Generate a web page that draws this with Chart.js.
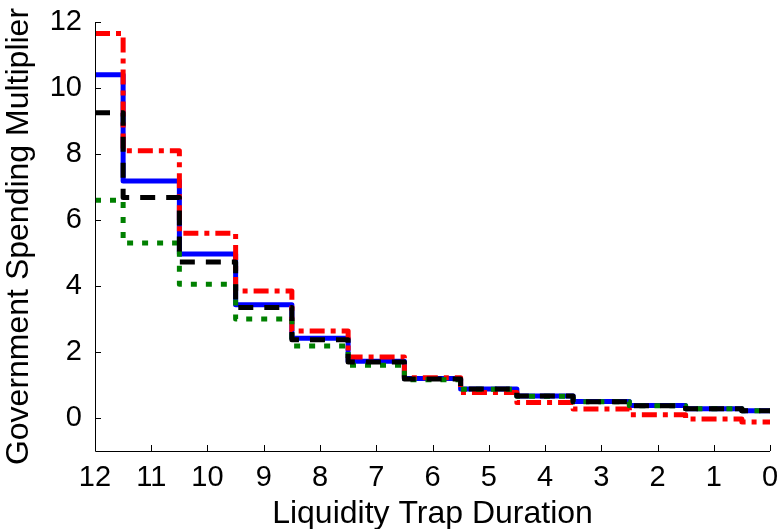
<!DOCTYPE html>
<html>
<head>
<meta charset="utf-8">
<script src="https://cdn.jsdelivr.net/npm/chart.js@4/dist/chart.umd.min.js"></script>
<style>
  html, body { margin: 0; padding: 0; background: #fff; overflow: hidden; }
  #wrap { width: 781px; height: 529px; overflow: hidden; }
</style>
</head>
<body>
<div id="wrap"><canvas id="multChart" width="781" height="540"></canvas></div>
<script>
// liquidity trap duration (quarters), plotted right-to-left
const durations = [12, 11, 10, 9, 8, 7, 6, 5, 4, 3, 2, 1, 0];
const yTickValues = [0, 2, 4, 6, 8, 10, 12];

const blueSeries  = [10.4, 7.18, 4.97, 3.43, 2.42, 1.72, 1.2, 0.88, 0.67, 0.5, 0.38, 0.28, 0.22];
const redSeries   = [11.65, 8.1, 5.6, 3.85, 2.64, 1.85, 1.22, 0.77, 0.47, 0.27, 0.1, -0.03, -0.12];
const blackSeries = [9.25, 6.68, 4.73, 3.35, 2.37, 1.7, 1.18, 0.88, 0.67, 0.49, 0.37, 0.28, 0.22];
const greenSeries = [6.6, 5.3, 4.05, 3.0, 2.18, 1.6, 1.16, 0.87, 0.66, 0.49, 0.37, 0.28, 0.22];

const toPoints = arr => durations.map((d, i) => ({ x: d, y: arr[i] }));

// MATLAB-like inward tick marks
const inwardTicks = {
  id: 'inwardTicks',
  afterDatasetsDraw(chart) {
    const { ctx, chartArea, scales } = chart;
    ctx.save();
    ctx.strokeStyle = '#000';
    ctx.lineWidth = 1;
    scales.x.ticks.forEach(t => {
      const px = Math.round(scales.x.getPixelForValue(t.value)) + 0.5;
      ctx.beginPath();
      ctx.moveTo(px, chartArea.bottom);
      ctx.lineTo(px, chartArea.bottom - 6);
      ctx.stroke();
    });
    scales.y.ticks.forEach(t => {
      const py = Math.round(scales.y.getPixelForValue(t.value)) + 0.5;
      ctx.beginPath();
      ctx.moveTo(chartArea.left, py);
      ctx.lineTo(chartArea.left + 6, py);
      ctx.stroke();
    });
    ctx.beginPath();
    ctx.moveTo(chartArea.left + 0.5, chartArea.top);
    ctx.lineTo(chartArea.left + 0.5, chartArea.bottom + 0.5);
    ctx.lineTo(chartArea.right, chartArea.bottom + 0.5);
    ctx.stroke();
    ctx.restore();
  }
};

const common = {
  stepped: 'middle',
  pointRadius: 0,
  borderWidth: 5,
  fill: false,
  borderJoinStyle: 'round',
  borderCapStyle: 'butt'
};

const tickFont = { family: 'Liberation Sans', size: 29 };
const titleFont = { family: 'Liberation Sans', size: 32 };

const ctx = document.getElementById('multChart').getContext('2d');
new Chart(ctx, {
  type: 'line',
  data: {
    datasets: [
      Object.assign({ label: 'black', data: toPoints(blackSeries), borderColor: '#000000', borderDash: [15, 11] }, common),
      Object.assign({ label: 'green', data: toPoints(greenSeries), borderColor: '#008000', borderDash: [6, 9] }, common),
      Object.assign({ label: 'red', data: toPoints(redSeries), borderColor: '#ff0000', borderDash: [15, 6, 5, 6] }, common),
      Object.assign({ label: 'blue', data: toPoints(blueSeries), borderColor: '#0000ff' }, common)
    ]
  },
  options: {
    responsive: false,
    animation: false,
    layout: { padding: { top: 22, right: 11, left: 0, bottom: 0 } },
    plugins: { legend: { display: false }, tooltip: { enabled: false } },
    scales: {
      x: {
        type: 'linear',
        reverse: true,
        min: 0,
        max: 12,
        grid: { display: false, drawTicks: false },
        border: { display: false },
        ticks: { stepSize: 1, color: '#000', padding: 10, font: tickFont },
        title: { display: true, text: 'Liquidity Trap Duration', color: '#000', padding: { top: 0, bottom: 7 }, font: titleFont },
        afterFit(scale) { scale.height = 89; scale.paddingLeft = 0; scale.paddingRight = 0; }
      },
      y: {
        min: -1,
        max: 12,
        grid: { display: false, drawTicks: false },
        border: { display: false },
        afterBuildTicks(scale) { scale.ticks = yTickValues.map(v => ({ value: v })); },
        ticks: { color: '#000', padding: 13, font: tickFont },
        title: { display: true, text: 'Government Spending Multiplier', color: '#000', padding: { top: 0, bottom: 0 }, font: titleFont },
        afterFit(scale) { scale.width = 95; scale.paddingTop = 0; scale.paddingBottom = 0; }
      }
    }
  },
  plugins: [inwardTicks]
});
</script>
</body>
</html>
